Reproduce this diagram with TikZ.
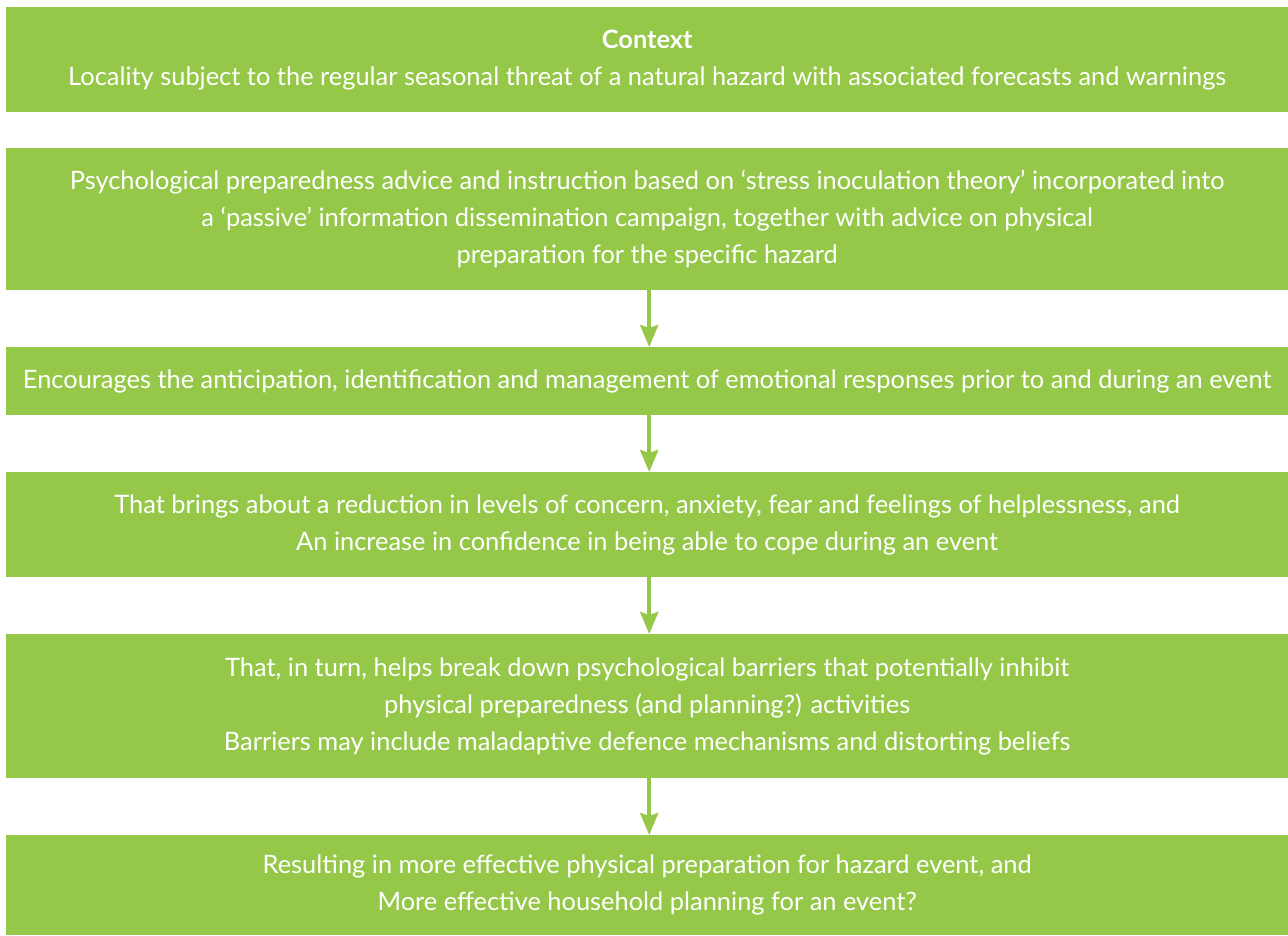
\documentclass[tikz,border=0pt]{standalone}
\usepackage{fontspec}
\setmainfont{Lato}
\usetikzlibrary{arrows.meta}
\definecolor{boxgreen}{RGB}{149,200,72}
\begin{document}
\begin{tikzpicture}[x=1pt,y=1pt,
  box/.style={fill=boxgreen, draw=none, text=white, align=center, inner sep=0pt,
    minimum width=1282pt, anchor=north west, font=\fontsize{25.4}{37}\selectfont},
  arr/.style={draw=boxgreen, line width=4pt, -{Stealth[length=22pt,width=18pt,inset=3pt]}, shorten >=0pt}]
\useasboundingbox (0,0) rectangle (1288,-935);
\fill[white] (0,0) rectangle (1288,-935);
\node[box, minimum height=105pt] (b1) at (6,-7) {\textbf{Context}\\Locality subject to the regular seasonal threat of a natural hazard with associated forecasts and warnings};
\node[box, minimum height=142pt] (b2) at (6,-148) {Psychological preparedness advice and instruction based on ‘stress inoculation theory’ incorporated into\\a ‘passive’ information dissemination campaign, together with advice on physical\\preparation for the specific hazard};
\node[box, minimum height=68pt] (b3) at (6,-347) {Encourages the anticipation, identification and management of emotional responses prior to and during an event};
\node[box, minimum height=105pt] (b4) at (6,-472) {That brings about a reduction in levels of concern, anxiety, fear and feelings of helplessness, and\\An increase in confidence in being able to cope during an event};
\node[box, minimum height=144pt] (b5) at (6,-634) {That, in turn, helps break down psychological barriers that potentially inhibit\\physical preparedness (and planning?) activities\\Barriers may include maladaptive defence mechanisms and distorting beliefs};
\node[box, minimum height=100pt] (b6) at (6,-835) {Resulting in more effective physical preparation for hazard event, and\\More effective household planning for an event?};
\draw[arr] ([xshift=2pt]b2.south) -- ([xshift=2pt]b3.north);
\draw[arr] ([xshift=2pt]b3.south) -- ([xshift=2pt]b4.north);
\draw[arr] ([xshift=2pt]b4.south) -- ([xshift=2pt]b5.north);
\draw[arr] ([xshift=2pt]b5.south) -- ([xshift=2pt]b6.north);
\end{tikzpicture}
\end{document}
